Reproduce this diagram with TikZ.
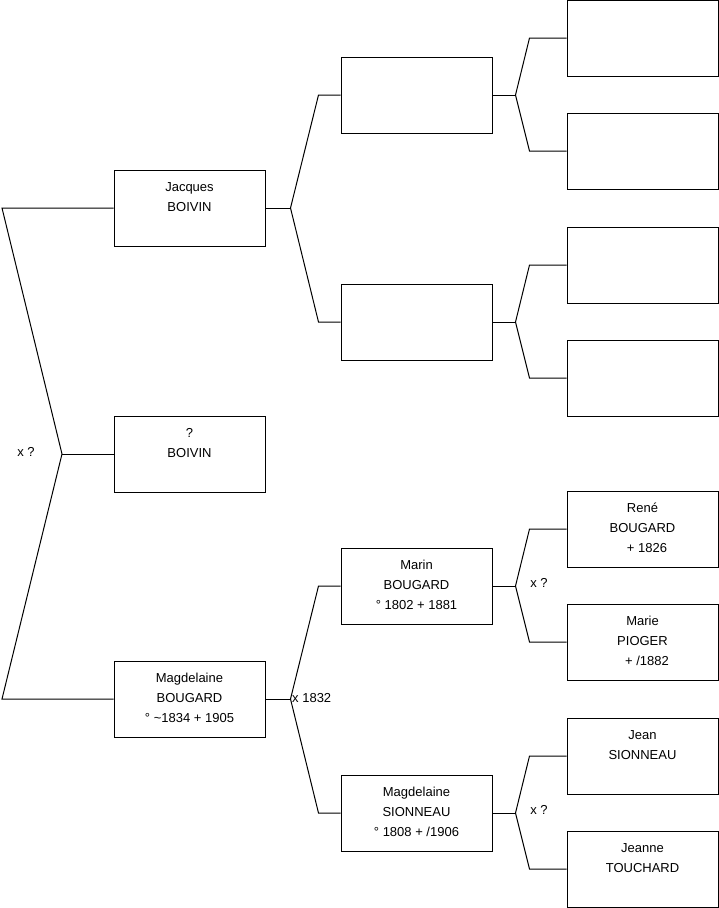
\documentclass[tikz,border=0pt]{standalone}
\usepackage{fontspec}
\setmainfont{Liberation Sans}
\usetikzlibrary{calc}
\begin{document}
\begin{tikzpicture}[x=1pt,y=-1pt,
  pbox/.style={draw=black,line width=1pt,minimum width=151pt,minimum height=76pt,inner sep=0pt},
  ptext/.style={anchor=north,inner sep=0pt,align=center,font=\fontsize{13}{20}\selectfont},
  lbl/.style={inner sep=0pt,font=\fontsize{13}{14}\selectfont},
  conn/.style={line width=1pt,black}]
\useasboundingbox (0,0) rectangle (719,908);
% level 1
\node[pbox] (jacques) at (189.5,208) {};
\node[pbox] (boivin) at (189.5,454) {};
\node[pbox] (magd) at (189.5,699) {};
% level 2
\node[pbox] (a1) at (416.5,95) {};
\node[pbox] (a2) at (416.5,322) {};
\node[pbox] (marin) at (416.5,586) {};
\node[pbox] (msion) at (416.5,813) {};
% level 3
\node[pbox] (b1) at (642.5,38) {};
\node[pbox] (b2) at (642.5,151) {};
\node[pbox] (b3) at (642.5,265) {};
\node[pbox] (b4) at (642.5,378) {};
\node[pbox] (rene) at (642.5,529) {};
\node[pbox] (marie) at (642.5,642) {};
\node[pbox] (jean) at (642.5,756) {};
\node[pbox] (jeanne) at (642.5,869) {};
% texts
\node[ptext] at ($(jacques.north)+(0,12.5)$) {Jacques\\BOIVIN};
\node[ptext] at ($(boivin.north)+(0,12.5)$) {?\\BOIVIN};
\node[ptext] at ($(magd.north)+(0,12.5)$) {Magdelaine\\BOUGARD\\° \textasciitilde1834 + 1905};
\node[ptext] at ($(marin.north)+(0,12.5)$) {Marin\\BOUGARD\\° 1802 + 1881};
\node[ptext] at ($(msion.north)+(0,12.5)$) {Magdelaine\\SIONNEAU\\° 1808 + /1906};
\node[ptext] at ($(rene.north)+(0,12.5)$) {René\\BOUGARD\\\hspace*{9pt}+ 1826};
\node[ptext] at ($(marie.north)+(0,12.5)$) {Marie\\PIOGER\\\hspace*{9pt}+ /1882};
\node[ptext] at ($(jean.north)+(0,12.5)$) {Jean\\SIONNEAU};
\node[ptext] at ($(jeanne.north)+(0,12.5)$) {Jeanne\\TOUCHARD};
% root bracket
\coordinate (r) at (62,454);
\coordinate (rt) at (2,208);
\coordinate (rb) at (2,699);
\draw[conn] (jacques.west) -- (rt) -- (r) -- (rb) -- (magd.west);
\draw[conn] (r) -- (boivin.west);
\node[lbl] (xr) at (26,452) {x ?};
% forks level 1 -> 2
\foreach \p/\c/\d in {jacques/a1/a2, magd/marin/msion}{
  \draw[conn] (\p.east) -- ++(25,0) coordinate (f\p);
  \draw[conn] (\c.west) -- ++(-22,0) -- (f\p) -- ($(\d.west)+(-22,0)$) -- (\d.west);
}
% forks level 2 -> 3
\foreach \p/\c/\d in {a1/b1/b2, a2/b3/b4, marin/rene/marie, msion/jean/jeanne}{
  \draw[conn] (\p.east) -- ++(23,0) coordinate (f\p);
  \draw[conn] (\c.west) -- ++(-37,0) -- (f\p) -- ($(\d.west)+(-37,0)$) -- (\d.west);
}
\node[lbl,anchor=west] (x1832) at (292,698) {x 1832};
\node[lbl] (xm) at (539,583) {x ?};
\node[lbl] (xs) at (539,810) {x ?};
\end{tikzpicture}
\end{document}
